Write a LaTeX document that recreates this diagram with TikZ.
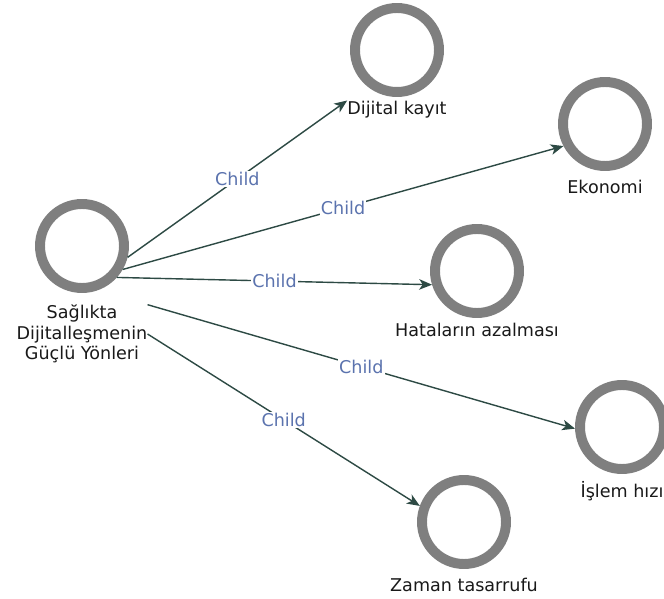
\documentclass[tikz,border=0pt]{standalone}
\usepackage{fontspec}
\setmainfont{DejaVu Sans}
\usepackage{tikz}
\usetikzlibrary{positioning}
\usetikzlibrary{arrows.meta}
\definecolor{ringgray}{HTML}{7F7F7F}
\definecolor{edgegreen}{HTML}{2D4A44}
\definecolor{childblue}{HTML}{5B73AE}

\begin{document}
\begin{tikzpicture}[x=0.03cm, y=-0.03cm,
  every node/.style={font=\fontsize{15}{17.5}\selectfont},
  ring/.style={circle, draw=ringgray, line width=8.5pt, fill=white, minimum size=2.52cm, inner sep=0pt},
  vlabel/.style={align=center, inner sep=0pt, text=black!90},
  link/.style={draw=edgegreen, line width=1.2pt, -{Stealth[length=11pt,width=9pt,inset=3pt]}},
  childlab/.style={text=childblue, fill=white, inner sep=1pt}]
  \useasboundingbox (0,0) rectangle (664,599);

  % Nodes
  \node[ring] (merkez) at (82,246) {};
  \node[ring] (dk) at (397,50) {};
  \node[ring] (ek) at (605,124) {};
  \node[ring] (hat) at (477,271) {};
  \node[ring] (isl) at (622,427) {};
  \node[ring] (zt) at (464,522) {};

  % Labels
  \node[vlabel, below=10pt of merkez] (merkez-l) {Sağlıkta\\Dijitalleşmenin\\Güçlü Yönleri};
  \node[vlabel, below=3pt of dk] (dk-l) {Dijital kayıt};
  \node[vlabel, below=8pt of ek] (ek-l) {Ekonomi};
  \node[vlabel, below=4pt of hat] (hat-l) {Hataların azalması};
  \node[vlabel, below=6pt of isl] (isl-l) {İşlem hızı};
  \node[vlabel, below=8pt of zt] (zt-l) {Zaman tasarrufu};

  % Arrows
  \draw[link] (merkez.-14) -- (dk-l.north west) node [midway,childlab] {Child};
  \draw[link] (merkez.-30) -- (ek.208) node [midway,childlab] {Child};
  \draw[link] (merkez.-42) -- (hat.197) node [midway,childlab] {Child};
  \draw[link] (merkez-l.north east) -- (isl.182) node [midway,childlab] {Child};
  \draw[link] (merkez-l.east) -- (zt.160) node [midway,childlab] {Child};
\end{tikzpicture}
\end{document}
